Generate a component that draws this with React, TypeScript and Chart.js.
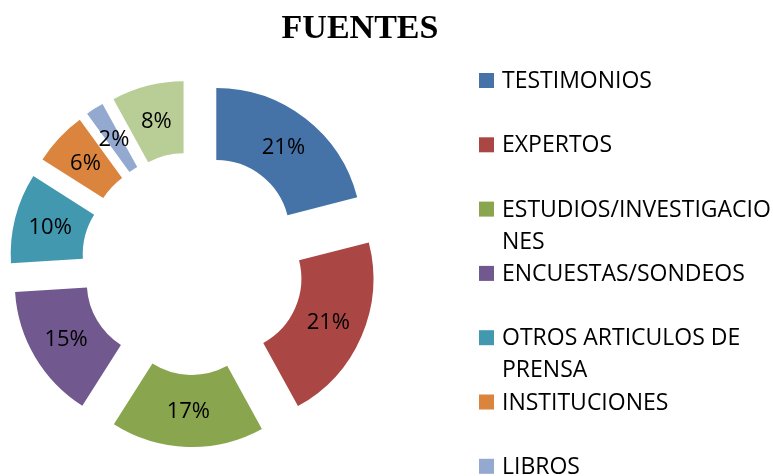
import React, { useEffect, useRef } from "react";
import { Chart, registerables } from "chart.js";

Chart.register(...registerables);

const titleText = "FUENTES";
const categories = [
  "TESTIMONIOS",
  "EXPERTOS",
  "ESTUDIOS/INVESTIGACIONES",
  "ENCUESTAS/SONDEOS",
  "OTROS ARTICULOS DE PRENSA",
  "INSTITUCIONES",
  "LIBROS",
  "OTROS",
];
const legendLines = [
  ["TESTIMONIOS"],
  ["EXPERTOS"],
  ["ESTUDIOS/INVESTIGACIO", "NES"],
  ["ENCUESTAS/SONDEOS"],
  ["OTROS ARTICULOS DE", "PRENSA"],
  ["INSTITUCIONES"],
  ["LIBROS"],
  ["OTROS"],
];
const values = [21, 21, 17, 15, 10, 6, 2, 8];
const colors = [
  "#4572A7",
  "#AA4643",
  "#89A54E",
  "#71588F",
  "#4198AF",
  "#DB843D",
  "#93A9CF",
  "#B9CD96",
];

const W = 773;
const H = 476;
const EXPLODE = 38;
const LABEL_FONT = "22px 'Open Sans'";
const LEGEND_FONT = "23px 'Open Sans'";

const explodePlugin = {
  id: "explode",
  afterDatasetsUpdate(chart: any) {
    const meta = chart.getDatasetMeta(0);
    meta.data.forEach((arc: any) => {
      const mid = (arc.startAngle + arc.endAngle) / 2;
      arc.x += Math.cos(mid) * EXPLODE;
      arc.y += Math.sin(mid) * EXPLODE;
    });
  },
};

const labelPlugin = {
  id: "sliceLabels",
  afterDatasetsDraw(chart: any) {
    const ctx = chart.ctx;
    const meta = chart.getDatasetMeta(0);
    const data = chart.data.datasets[0].data as number[];
    const total = data.reduce((a, b) => a + b, 0);
    ctx.save();
    ctx.font = LABEL_FONT;
    ctx.fillStyle = "#000";
    ctx.textAlign = "center";
    ctx.textBaseline = "middle";
    meta.data.forEach((arc: any, i: number) => {
      const p = arc.getCenterPoint();
      const pct = Math.round((data[i] / total) * 100) + "%";
      ctx.fillText(pct, p.x, p.y + 1);
    });
    ctx.restore();
  },
};

const decorPlugin = {
  id: "decor",
  afterDraw(chart: any) {
    const ctx = chart.ctx;
    ctx.save();
    // title
    ctx.font = "bold 34px 'Liberation Serif'";
    ctx.fillStyle = "#000";
    ctx.textAlign = "center";
    ctx.textBaseline = "alphabetic";
    ctx.fillText(titleText, 360, 38);
    // legend
    const bg = chart.data.datasets[0].backgroundColor as string[];
    ctx.font = LEGEND_FONT;
    ctx.textAlign = "left";
    chart.data.labels.forEach((_: string, i: number) => {
      const base = 88 + i * 64.3;
      ctx.fillStyle = bg[i];
      ctx.fillRect(479, base - 15, 15, 15);
      ctx.fillStyle = "#000";
      legendLines[i].forEach((line, j) => {
        ctx.fillText(line, 502, base + j * 32);
      });
    });
    ctx.restore();
  },
};

export default function App() {
  const ref = useRef<HTMLCanvasElement | null>(null);
  useEffect(() => {
    if (!ref.current) return;
    const chart = new Chart(ref.current, {
      type: "doughnut",
      data: {
        labels: categories,
        datasets: [
          {
            data: values,
            backgroundColor: colors,
            borderWidth: 0,
          },
        ],
      },
      options: {
        responsive: false,
        animation: false,
        radius: 145.5,
        cutout: "50.5%",
        layout: { padding: { left: 20, right: 407, top: 80, bottom: 29 } },
        plugins: {
          legend: { display: false },
          title: { display: false },
          tooltip: { enabled: false },
        },
      } as any,
      plugins: [explodePlugin, labelPlugin, decorPlugin],
    });
    return () => chart.destroy();
  }, []);
  return (
    <div style={{ position: "absolute", left: 0, top: 0, width: W, height: H, background: "#fff" }}>
      <canvas ref={ref} width={W} height={H} style={{ width: W, height: H, display: "block" }} />
    </div>
  );
}
